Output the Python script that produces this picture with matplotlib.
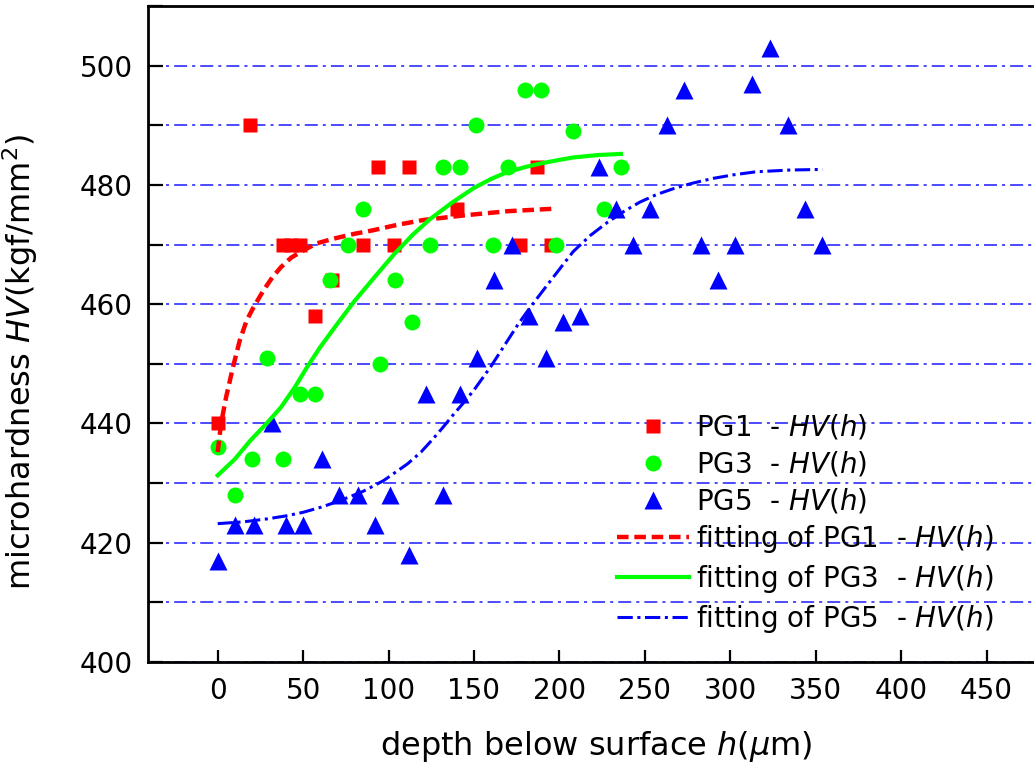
import matplotlib
matplotlib.use('Agg')
import matplotlib.pyplot as plt
from matplotlib.ticker import MultipleLocator

# measured points (depth in um, HV in kgf/mm2)
pg1_h = [0, 19, 38, 43, 48, 57, 67, 85, 94, 103, 112, 140, 177, 187, 195]
pg1_hv = [440, 490, 470, 470, 470, 458, 464, 470, 483, 470, 483, 476, 470, 483, 470]

pg3_h = [0, 10, 20, 29, 38, 48, 57, 66, 76, 85, 95, 104, 114, 124, 132, 142,
         151, 161, 170, 180, 189, 198, 208, 226, 236]
pg3_hv = [436, 428, 434, 451, 434, 445, 445, 464, 470, 476, 450, 464, 457, 470,
          483, 483, 490, 470, 483, 496, 496, 470, 489, 476, 483]

pg5_h = [0, 10, 21, 32, 40, 50, 61, 71, 82, 92, 101, 112, 122, 132, 142, 152,
         162, 172, 182, 192, 202, 212, 223, 233, 243, 253, 263, 273, 283, 293,
         303, 313, 323, 334, 344, 354]
pg5_hv = [417, 423, 423, 440, 423, 423, 434, 428, 428, 423, 428, 418, 445, 428,
          445, 451, 464, 470, 458, 451, 457, 458, 483, 476, 470, 476, 490, 496,
          470, 464, 470, 497, 503, 490, 476, 470]

# fitted curves
fit1_h = [0, 2, 5, 9, 13, 17, 21, 27, 32, 37, 43, 50, 58, 68, 80, 91, 105,
          120, 135, 148, 170, 196]
fit1_hv = [435.2, 440, 444.5, 449.5, 454, 457.3, 459.5, 462.4, 464.5, 466.2,
           467.8, 469, 470.2, 471, 471.8, 472.4, 473.3, 474.1, 474.6, 475,
           475.6, 476]

fit3_h = [0, 10, 19, 28, 37, 45, 52, 60, 70, 80, 92, 103, 114, 124, 137, 150,
          160, 169, 180, 189, 200, 208, 222, 236]
fit3_hv = [431.3, 434, 437.1, 439.8, 442.7, 446, 449.3, 452.8, 456.7, 460.5,
           464.6, 468.3, 471.6, 474.2, 477, 479.5, 481, 482.1, 483, 483.6,
           484.2, 484.6, 485, 485.2]

fit5_h = [0, 15, 29, 40, 50, 61, 72, 85, 97, 105, 111, 119, 126, 132, 138, 144,
          150, 160, 169, 176, 183, 195, 208, 218, 228, 238, 247, 257, 267, 278,
          290, 302, 315, 335, 354]
fit5_hv = [423.2, 423.5, 424, 424.5, 425.1, 426, 427.1, 428.6, 430.4, 432,
           433.2, 435.2, 437.4, 439.4, 441.5, 443.5, 445.6, 449.6, 453.6, 456.7,
           459.5, 464, 468.8, 471.5, 473.7, 475.6, 477.1, 478.4, 479.4, 480.3,
           481.1, 481.7, 482.2, 482.5, 482.6]

plt.rcParams['font.family'] = 'DejaVu Sans'
plt.rcParams['mathtext.fontset'] = 'dejavusans'

fig = plt.figure(figsize=(10.34, 7.73), dpi=100)
ax = fig.add_axes([0.1431, 0.1436, 0.8665, 0.8486])

ax.plot(pg1_h, pg1_hv, 's', color='#ff0000', ms=10.5, mec='none',
        label='PG1  - $\\mathit{HV(h)}$', zorder=3)
ax.plot(pg3_h, pg3_hv, 'o', color='#00ff00', ms=11.5, mec='none',
        label='PG3  - $\\mathit{HV(h)}$', zorder=3)
ax.plot(pg5_h, pg5_hv, '^', color='#0000ff', ms=13, mec='none',
        label='PG5  - $\\mathit{HV(h)}$', zorder=3)

ax.plot(fit1_h, fit1_hv, color='#ff0000', lw=3.2, ls=(0, (2.6, 1.3)),
        label='fitting of PG1  - $\\mathit{HV(h)}$', zorder=4)
ax.plot(fit3_h, fit3_hv, color='#00ff00', lw=3, ls='-',
        label='fitting of PG3  - $\\mathit{HV(h)}$', zorder=4)
ax.plot(fit5_h, fit5_hv, color='#0000ff', lw=2.2, ls=(0, (5, 1.5, 1, 1.5)),
        label='fitting of PG5  - $\\mathit{HV(h)}$', zorder=4)

ax.set_xlim(-40.8, 483.6)
ax.set_ylim(400, 510)
ax.xaxis.set_major_locator(MultipleLocator(50))
ax.yaxis.set_major_locator(MultipleLocator(20))
ax.yaxis.set_minor_locator(MultipleLocator(10))

ax.yaxis.grid(True, which='both', color='#1a1aff', lw=1.1, ls=(0, (8.5, 3.3, 2, 3.3)))
ax.set_axisbelow(True)

ax.tick_params(axis='y', which='both', direction='in', length=11, width=1.6,
               labelsize=20, pad=11)
ax.tick_params(axis='x', which='both', direction='in', length=9, width=1.6,
               labelsize=20, pad=11)
ax.spines['right'].set_visible(False)
for s in ['left', 'bottom', 'top']:
    ax.spines[s].set_linewidth(2)

ax.set_xlabel('depth below surface $\\mathit{h}$($\\mathit{\\mu}$m)', fontsize=23, labelpad=17)
ax.set_ylabel('microhardness $\\mathit{HV}$(kgf/mm$^2$)', fontsize=23)
ax.yaxis.set_label_coords(-0.12, 0.457)

ax.legend(loc='upper left', bbox_to_anchor=(0.5234, 0.380), frameon=False,
          fontsize=20, numpoints=1, handlelength=2.6, handletextpad=0.25,
          labelspacing=0.28, borderpad=0, borderaxespad=0)

fig.savefig('out.png', dpi=100)
